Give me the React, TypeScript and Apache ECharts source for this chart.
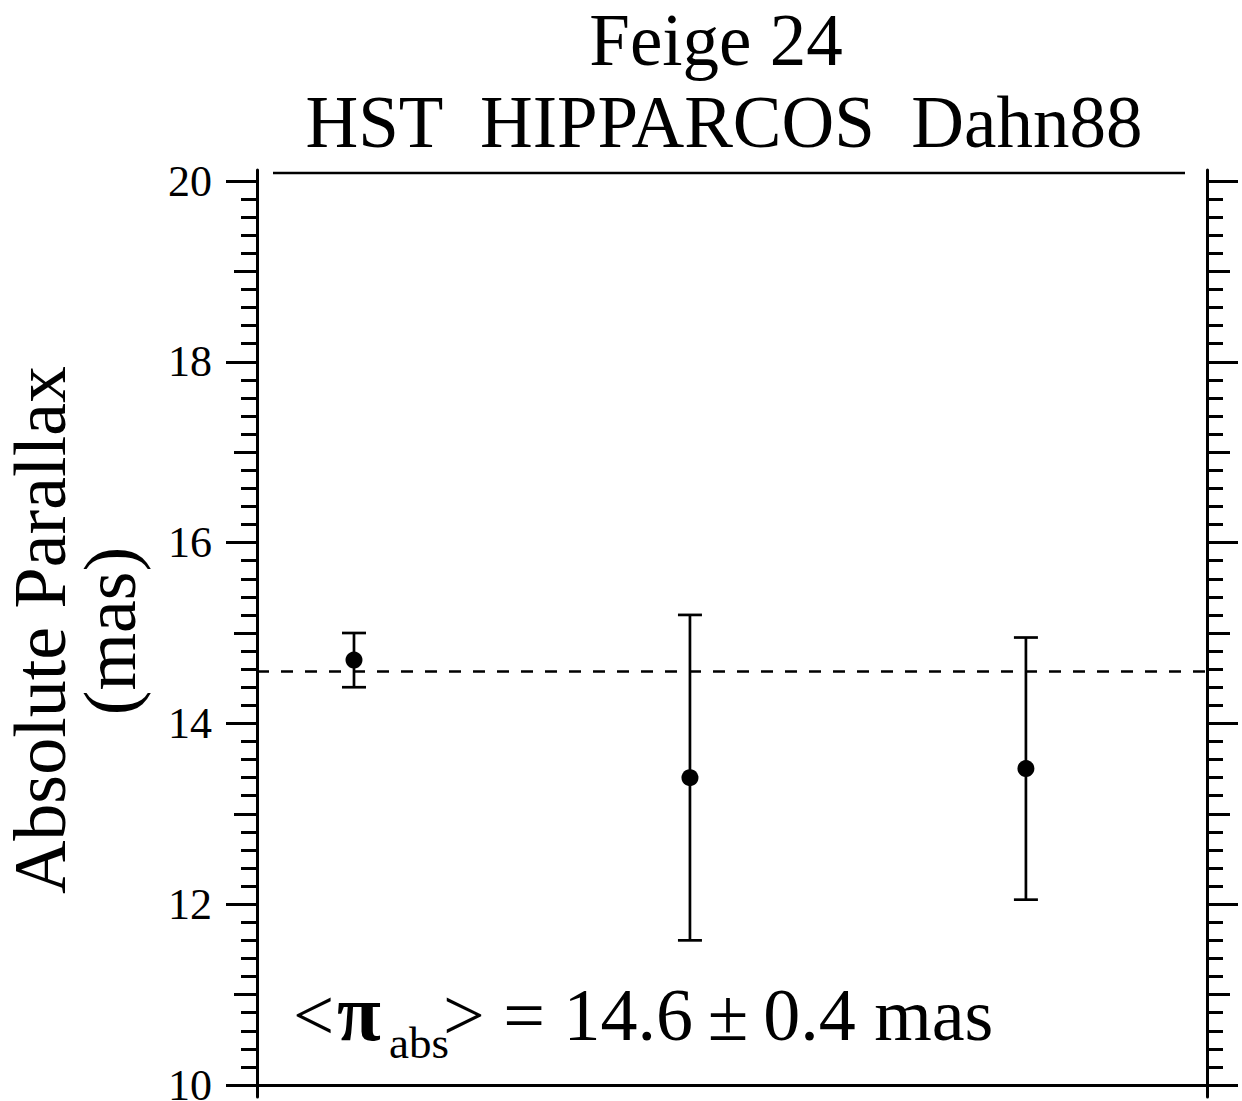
import React, { useEffect, useRef } from "react";
import * as echarts from "echarts";

// ---- data ----
const sources = ["HST", "HIPPARCOS", "Dahn88"];
const xPositions = [1, 2, 3];
const parallax = [14.7, 13.4, 13.5];
const sigma = [0.3, 1.8, 1.45];
const meanParallax = 14.58;
const yTickLabels = ["10", "12", "14", "16", "18", "20"];

const FONT = "'Liberation Serif', 'Times New Roman', Times, serif";

export default function App() {
  const ref = useRef<HTMLDivElement>(null);

  useEffect(() => {
    if (!ref.current) return;
    const chart = echarts.init(ref.current, undefined, { renderer: "svg" });

    const points = xPositions.map((x, i) => [x, parallax[i]]);
    const errData = xPositions.map((x, i) => [x, parallax[i] - sigma[i], parallax[i] + sigma[i]]);

    const black = "#000";
    const majorAxis = (position: "left" | "right", labels: boolean) => ({
      type: "value",
      gridIndex: 0,
      position,
      min: 10,
      max: 20,
      interval: 2,
      axisLine: { show: false },
      axisTick: { show: true, inside: false, length: 31, lineStyle: { color: black, width: 3 } },
      minorTick: { show: true, splitNumber: 10, length: 16, lineStyle: { color: black, width: 3 } },
      axisLabel: labels
        ? {
            show: true,
            margin: 45,
            fontSize: 44,
            fontFamily: FONT,
            color: black,
            formatter: (v: number) => (yTickLabels.includes(String(v)) ? String(v) : ""),
          }
        : { show: false },
      splitLine: { show: false },
      minorSplitLine: { show: false },
    });
    const mediumAxis = (position: "left" | "right") => ({
      type: "value",
      gridIndex: 0,
      position,
      min: 10,
      max: 20,
      interval: 1,
      axisLine: { show: false },
      axisTick: { show: true, inside: false, length: 23, lineStyle: { color: black, width: 3 } },
      axisLabel: { show: false },
      splitLine: { show: false },
    });
    const frameAxis = (position: "left" | "right") => ({
      type: "value",
      gridIndex: 1,
      position,
      min: 0,
      max: 1,
      axisLine: { show: true, lineStyle: { color: black, width: 3 } },
      axisTick: { show: false },
      axisLabel: { show: false },
      splitLine: { show: false },
    });

    const option: any = {
      animation: false,
      backgroundColor: "#fff",
      grid: [
        { left: 257, right: 35, top: 181, height: 904, outerBoundsMode: "none", containLabel: false },
        { left: 257, right: 35, top: 170, height: 927, outerBoundsMode: "none", containLabel: false },
      ],
      xAxis: [
        {
          type: "value",
          gridIndex: 0,
          min: 0.7113,
          max: 3.539,
          axisLine: { show: true, onZero: false, lineStyle: { color: black, width: 3 } },
          axisTick: { show: false },
          axisLabel: { show: false },
          splitLine: { show: false },
        },
        { type: "value", gridIndex: 1, min: 0, max: 1, show: false },
      ],
      yAxis: [
        majorAxis("left", true),
        mediumAxis("left"),
        majorAxis("right", false),
        mediumAxis("right"),
        frameAxis("left"),
        frameAxis("right"),
      ],
      series: [
        {
          type: "custom",
          name: "error bars",
          xAxisIndex: 0,
          yAxisIndex: 0,
          data: errData,
          encode: { x: 0, y: [1, 2] },
          renderItem: (_params: any, api: any) => {
            const x = api.value(0);
            const pLo = api.coord([x, api.value(1)]);
            const pHi = api.coord([x, api.value(2)]);
            const hw = 12;
            const st = { stroke: black, lineWidth: 2.7 };
            return {
              type: "group",
              children: [
                { type: "line", shape: { x1: pLo[0], y1: pLo[1], x2: pHi[0], y2: pHi[1] }, style: st },
                { type: "line", shape: { x1: pLo[0] - hw, y1: pLo[1], x2: pLo[0] + hw, y2: pLo[1] }, style: st },
                { type: "line", shape: { x1: pHi[0] - hw, y1: pHi[1], x2: pHi[0] + hw, y2: pHi[1] }, style: st },
              ],
            };
          },
        },
        {
          type: "scatter",
          name: "parallax",
          xAxisIndex: 0,
          yAxisIndex: 0,
          data: points,
          symbol: "circle",
          symbolSize: 17,
          itemStyle: { color: black, opacity: 1 },
          z: 3,
          markLine: {
            silent: true,
            symbol: ["none", "none"],
            label: { show: false },
            lineStyle: { color: black, width: 2.5, type: [12, 12], opacity: 1 },
            data: [{ yAxis: meanParallax }],
          },
        },
      ],
      graphic: [
        {
          type: "line",
          shape: { x1: 273, y1: 173, x2: 1185, y2: 173 },
          style: { stroke: black, lineWidth: 2.5 },
        },
        {
          type: "text",
          x: 716,
          y: 40,
          style: { text: "Feige 24", font: `73px ${FONT}`, fill: black, align: "center", verticalAlign: "middle" },
        },
        {
          type: "text",
          x: 724,
          y: 122,
          style: {
            text: sources.join("\u00a0\u00a0"),
            font: `73px ${FONT}`,
            fill: black,
            align: "center",
            verticalAlign: "middle",
          },
        },
        {
          type: "text",
          x: 40,
          y: 630,
          rotation: Math.PI / 2,
          style: { text: "Absolute Parallax", font: `74px ${FONT}`, fill: black, align: "center", verticalAlign: "middle" },
        },
        {
          type: "text",
          x: 110,
          y: 631,
          rotation: Math.PI / 2,
          style: { text: "(mas)", font: `74px ${FONT}`, fill: black, align: "center", verticalAlign: "middle" },
        },
        {
          type: "text",
          x: 293,
          y: 1015,
          style: { text: "<", font: `73px ${FONT}`, fill: black, align: "left", verticalAlign: "middle" },
        },
        {
          type: "text",
          x: 337,
          y: 1013,
          style: { text: "π", font: `bold 80px ${FONT}`, fill: black, align: "left", verticalAlign: "middle" },
        },
        {
          type: "text",
          x: 389,
          y: 1043,
          style: { text: "abs", font: `45px ${FONT}`, fill: black, align: "left", verticalAlign: "middle" },
        },
        {
          type: "text",
          x: 443,
          y: 1015,
          style: {
            text: "> = 14.6\u2009±\u20090.4 mas",
            font: `74px ${FONT}`,
            fill: black,
            align: "left",
            verticalAlign: "middle",
          },
        },
      ],
    };

    chart.setOption(option);
    return () => chart.dispose();
  }, []);

  return (
    <div
      ref={ref}
      style={{ position: "fixed", left: 0, top: 0, width: 1242, height: 1101, background: "#fff" }}
    />
  );
}
